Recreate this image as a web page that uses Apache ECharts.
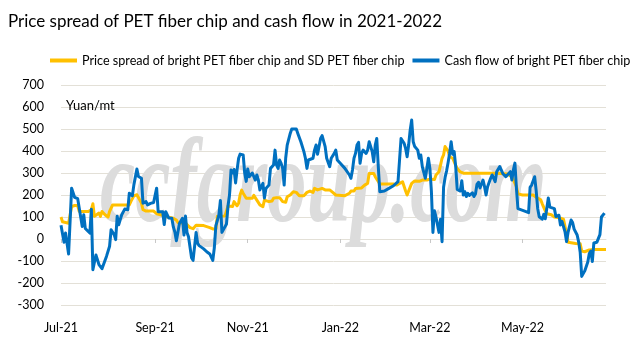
<!DOCTYPE html>
<html>
<head>
<meta charset="utf-8">
<script src="https://cdn.jsdelivr.net/npm/echarts@6/dist/echarts.min.js"></script>
<style>
  html, body { margin: 0; padding: 0; background: #ffffff; }
  #chart { width: 643px; height: 341px; }
</style>
</head>
<body>
<div id="chart"></div>
<script>
// Price spread between bright and SD PET fiber chip (Yuan/mt)
const spreadDates = [
  '2021-07-01','2021-07-02','2021-07-04','2021-07-06','2021-07-08','2021-07-10','2021-07-12','2021-07-13','2021-07-17','2021-07-19',
  '2021-07-21','2021-07-22','2021-07-23','2021-07-24','2021-07-26','2021-07-27','2021-07-28','2021-07-29','2021-07-30','2021-07-31',
  '2021-08-01','2021-08-02','2021-08-03','2021-08-04','2021-08-07','2021-08-11','2021-08-15','2021-08-16','2021-08-18','2021-08-20',
  '2021-08-21','2021-08-23','2021-08-24','2021-08-26','2021-08-29','2021-08-31','2021-09-02','2021-09-03','2021-09-07','2021-09-09',
  '2021-09-13','2021-09-15','2021-09-16','2021-09-18','2021-09-21','2021-09-22','2021-09-24','2021-09-26','2021-09-28','2021-10-03',
  '2021-10-07','2021-10-09','2021-10-11','2021-10-12','2021-10-17','2021-10-19','2021-10-22','2021-10-23','2021-10-25','2021-10-26',
  '2021-10-27','2021-10-28','2021-10-29','2021-10-31','2021-11-02','2021-11-04','2021-11-05','2021-11-06','2021-11-07','2021-11-08',
  '2021-11-09','2021-11-10','2021-11-11','2021-11-12','2021-11-15','2021-11-17','2021-11-18','2021-11-20','2021-11-22','2021-11-24',
  '2021-11-26','2021-11-27','2021-11-29','2021-12-01','2021-12-03','2021-12-05','2021-12-08','2021-12-10','2021-12-12','2021-12-14',
  '2021-12-15','2021-12-17','2021-12-20','2021-12-22','2021-12-23','2021-12-25','2021-12-27','2021-12-29','2021-12-30','2022-01-04',
  '2022-01-07','2022-01-08','2022-01-10','2022-01-11','2022-01-15','2022-01-17','2022-01-19','2022-01-20','2022-01-23','2022-01-24',
  '2022-01-27','2022-01-30','2022-02-05','2022-02-07','2022-02-09','2022-02-11','2022-02-13','2022-02-14','2022-02-15','2022-02-17',
  '2022-02-19','2022-02-22','2022-02-24','2022-02-27','2022-03-01','2022-03-04','2022-03-05','2022-03-07','2022-03-08','2022-03-09',
  '2022-03-10','2022-03-11','2022-03-12','2022-03-13','2022-03-14','2022-03-16','2022-03-17','2022-03-18','2022-03-19','2022-03-21',
  '2022-03-23','2022-04-03','2022-04-14','2022-04-21','2022-04-22','2022-04-24','2022-04-25','2022-04-27','2022-04-28','2022-05-01',
  '2022-05-08','2022-05-10','2022-05-13','2022-05-14','2022-05-16','2022-05-17','2022-05-20','2022-05-22','2022-05-24','2022-05-26',
  '2022-05-28','2022-05-30','2022-05-31','2022-06-05','2022-06-08','2022-06-09','2022-06-11','2022-06-14','2022-06-17','2022-06-25'
];
const spreadValues = [
  100, 78, 75, 72, 148, 152, 152, 125, 125, 125,
  133, 160, 103, 103, 118, 103, 125, 118, 110, 110,
  100, 125, 118, 155, 155, 155, 155, 170, 196, 201,
  196, 163, 133, 127, 127, 127, 115, 106, 106, 100,
  94, 86, 75, 73, 72, 66, 52, 47, 63, 61,
  52, 46, 46, 103, 105, 150, 148, 170, 151, 163,
  201, 222, 208, 185, 185, 185, 198, 192, 177, 172,
  155, 147, 147, 177, 170, 173, 185, 188, 188, 170,
  167, 192, 200, 215, 212, 197, 197, 212, 218, 212,
  230, 223, 230, 223, 230, 223, 212, 200, 197, 197,
  208, 218, 218, 230, 232, 245, 253, 298, 298, 283,
  250, 250, 250, 245, 253, 260, 218, 200, 218, 253,
  264, 262, 268, 268, 272, 270, 291, 306, 336, 367,
  382, 420, 427, 400, 374, 367, 359, 335, 320, 305,
  299, 299, 299, 296, 293, 283, 276, 238, 205, 200,
  200, 190, 178, 160, 128, 115, 110, 100, 98, 95,
  90, 25, -15, -20, -22, -55, -58, -50, -48, -48
];

// Cash flow of bright PET fiber chip (Yuan/mt)
const cashDates = [
  '2021-07-01','2021-07-03','2021-07-04','2021-07-06','2021-07-08','2021-07-10','2021-07-12','2021-07-15','2021-07-16','2021-07-17',
  '2021-07-18','2021-07-20','2021-07-21','2021-07-22','2021-07-24','2021-07-26','2021-07-28','2021-07-29','2021-07-31','2021-08-02',
  '2021-08-03','2021-08-05','2021-08-06','2021-08-07','2021-08-08','2021-08-10','2021-08-11','2021-08-12','2021-08-14','2021-08-15',
  '2021-08-17','2021-08-18','2021-08-20','2021-08-21','2021-08-23','2021-08-24','2021-08-26','2021-08-27','2021-08-29','2021-08-30',
  '2021-08-31','2021-09-02','2021-09-03','2021-09-04','2021-09-06','2021-09-07','2021-09-08','2021-09-09','2021-09-10','2021-09-12',
  '2021-09-13','2021-09-14','2021-09-15','2021-09-16','2021-09-17','2021-09-19','2021-09-20','2021-09-21','2021-09-22','2021-09-23',
  '2021-09-25','2021-09-26','2021-09-27','2021-09-28','2021-09-29','2021-09-30','2021-10-03','2021-10-05','2021-10-07','2021-10-09',
  '2021-10-10','2021-10-11','2021-10-13','2021-10-14','2021-10-15','2021-10-17','2021-10-18','2021-10-19','2021-10-20','2021-10-21',
  '2021-10-22','2021-10-23','2021-10-24','2021-10-25','2021-10-26','2021-10-27','2021-10-29','2021-10-30','2021-10-31','2021-11-01',
  '2021-11-02','2021-11-04','2021-11-06','2021-11-07','2021-11-08','2021-11-09','2021-11-10','2021-11-11','2021-11-12','2021-11-13',
  '2021-11-15','2021-11-16','2021-11-17','2021-11-18','2021-11-19','2021-11-20','2021-11-21','2021-11-22','2021-11-23','2021-11-24',
  '2021-11-25','2021-11-26','2021-11-27','2021-11-29','2021-11-30','2021-12-03','2021-12-04','2021-12-06','2021-12-08','2021-12-09',
  '2021-12-10','2021-12-11','2021-12-12','2021-12-14','2021-12-15','2021-12-16','2021-12-17','2021-12-19','2021-12-20','2021-12-22',
  '2021-12-23','2021-12-25','2021-12-26','2021-12-28','2021-12-29','2021-12-30','2021-12-31','2022-01-02','2022-01-03','2022-01-04',
  '2022-01-05','2022-01-07','2022-01-08','2022-01-09','2022-01-10','2022-01-11','2022-01-12','2022-01-13','2022-01-14','2022-01-15',
  '2022-01-16','2022-01-17','2022-01-18','2022-01-19','2022-01-20','2022-01-21','2022-01-22','2022-01-23','2022-01-24','2022-01-25',
  '2022-01-26','2022-01-27','2022-01-30','2022-02-02','2022-02-05','2022-02-08','2022-02-09','2022-02-10','2022-02-12','2022-02-13',
  '2022-02-14','2022-02-15','2022-02-16','2022-02-17','2022-02-18','2022-02-19','2022-02-21','2022-02-22','2022-02-23','2022-02-24',
  '2022-02-26','2022-02-27','2022-02-28','2022-03-01','2022-03-02','2022-03-03','2022-03-04','2022-03-05','2022-03-07','2022-03-08',
  '2022-03-09','2022-03-10','2022-03-11','2022-03-12','2022-03-13','2022-03-14','2022-03-15','2022-03-16','2022-03-17','2022-03-18',
  '2022-03-19','2022-03-21','2022-03-22','2022-03-23','2022-03-24','2022-03-25','2022-03-26','2022-03-27','2022-03-29','2022-03-30',
  '2022-03-31','2022-04-01','2022-04-02','2022-04-03','2022-04-04','2022-04-05','2022-04-06','2022-04-07','2022-04-08','2022-04-10',
  '2022-04-11','2022-04-12','2022-04-13','2022-04-14','2022-04-16','2022-04-17','2022-04-18','2022-04-20','2022-04-21','2022-04-23',
  '2022-04-24','2022-04-25','2022-04-26','2022-04-27','2022-04-28','2022-05-02','2022-05-05','2022-05-06','2022-05-07','2022-05-09',
  '2022-05-10','2022-05-11','2022-05-12','2022-05-14','2022-05-15','2022-05-16','2022-05-18','2022-05-19','2022-05-20','2022-05-22',
  '2022-05-23','2022-05-25','2022-05-26','2022-05-27','2022-05-29','2022-05-30','2022-05-31','2022-06-02','2022-06-03','2022-06-04',
  '2022-06-06','2022-06-07','2022-06-08','2022-06-09','2022-06-10','2022-06-11','2022-06-13','2022-06-14','2022-06-15','2022-06-16',
  '2022-06-17','2022-06-18','2022-06-19','2022-06-20','2022-06-21','2022-06-22','2022-06-23','2022-06-24'
];
const cashValues = [
  63, -15, 27, -68, 231, 189, 183, 57, 110, 48,
  40, 27, 135, -140, -73, -116, -135, -128, -78, -33,
  42, 20, -3, 103, 65, 110, 103, 136, 133, 208,
  196, 246, 318, 284, 276, 163, 170, 155, 162, 158,
  166, 231, 124, 120, 124, 66, 124, 132, 95, 94,
  55, 32, -8, 30, 70, 94, 18, 104, 30, 10,
  -85, -97, -98, 30, -20, -30, -45, -58, -68, -97,
  -40, 60, 110, 175, 30, 55, 68, 150, 200, 314,
  300, 316, 255, 314, 367, 386, 382, 300, 262, 318,
  283, 300, 268, 291, 268, 223, 223, 253, 186, 230,
  245, 321, 329, 336, 404, 336, 321, 359, 344, 321,
  245, 367, 427, 480, 500, 500, 480, 442, 397, 367,
  321, 359, 367, 367, 404, 427, 385, 457, 470, 420,
  367, 329, 367, 389, 404, 359, 367, 336, 329, 321,
  314, 291, 276, 314, 367, 389, 427, 439, 344, 389,
  404, 412, 389, 404, 442, 450, 397, 351, 427, 457,
  329, 215, 218, 230, 242, 261, 359, 457, 435, 412,
  374, 427, 495, 541, 442, 420, 404, 367, 382, 329,
  276, 321, 367, 321, 215, 30, 128, 100, 30, 90,
  -12, 235, 280, 310, 348, 390, 442, 385, 397, 329,
  225, 218, 265, 200, 215, 193, 208, 198, 210, 193,
  205, 248, 258, 232, 235, 268, 238, 200, 238, 276,
  291, 298, 261, 306, 329, 314, 298, 283, 291, 306,
  268, 314, 345, 230, 138, 128, 120, 235, 245, 283,
  220, 139, 101, 90, 112, 92, 186, 145, 140, 138,
  102, 108, 64, 80, 33, -12, 30, 86, 75, 45,
  18, -14, -60, -170, -178, -145, -105, -66, -55, -102,
  -18, -13, -15, 3, 20, 100, 102, 118
];

// Month marks shown on the date axis, and the axis end date
const monthTicks = ['2021-07-01', '2021-09-01', '2021-11-01', '2022-01-01', '2022-03-01', '2022-05-01'];
const axisEndDate = '2022-06-25';
const monthNames = ['Jan','Feb','Mar','Apr','May','Jun','Jul','Aug','Sep','Oct','Nov','Dec'];

// Value axis range (Yuan/mt)
const yMin = -300, yMax = 700, yStep = 100;

const seriesNames = [
  'Price spread of bright PET fiber chip and SD PET fiber chip',
  'Cash flow of bright PET fiber chip'
];

const FONT = 'Lato, "Open Sans", sans-serif';
const GRID_COLOR = '#e3e0d7';

// ISO date strings -> UTC milliseconds for the date axis
const toTime = (s) => Date.parse(s + 'T00:00:00Z');
const spreadData = spreadDates.map((d, i) => [toTime(d), spreadValues[i]]);
const cashData = cashDates.map((d, i) => [toTime(d), cashValues[i]]);
const tickTimes = monthTicks.map(toTime);

const chart = echarts.init(document.getElementById('chart'), null, { renderer: 'canvas' });

chart.setOption({
  animation: false,
  backgroundColor: '#ffffff',
  title: {
    text: 'Price spread of PET fiber chip and cash flow in 2021-2022',
    left: 3,
    top: 8,
    textStyle: { fontFamily: FONT, fontSize: 17, fontWeight: 'normal', color: '#000000' }
  },
  legend: {
    left: 50,
    top: 54,
    width: 620,
    padding: 0,
    itemGap: 8,
    itemWidth: 27,
    itemHeight: 4,
    icon: 'rect',
    textStyle: { fontFamily: FONT, fontSize: 12.6, color: '#000000' },
    data: seriesNames
  },
  grid: { left: 61, right: 37, top: 85, bottom: 36, containLabel: false, outerBoundsMode: 'none' },
  graphic: [
    {
      type: 'text',
      z: 1,
      x: 100,
      y: 250,
      scaleX: 0.66,
      silent: true,
      style: {
        text: 'ccfgroup.com',
        font: 'italic bold 120px "Liberation Serif", "DejaVu Serif", serif',
        fill: '#dcdcdc',
        verticalAlign: 'bottom'
      }
    },
    {
      type: 'text',
      z: 5,
      left: 66,
      top: 99,
      style: {
        text: 'Yuan/mt',
        font: '13px ' + FONT,
        fill: '#000000'
      }
    }
  ],
  xAxis: {
    type: 'value',
    min: tickTimes[0],
    max: toTime(axisEndDate),
    axisLine: { onZero: true, lineStyle: { color: GRID_COLOR, width: 1 } },
    axisTick: {
      show: true,
      customValues: tickTimes,
      length: 4,
      lineStyle: { color: '#c8c8c8' }
    },
    axisLabel: {
      customValues: tickTimes,
      margin: 16,
      fontFamily: FONT,
      fontSize: 12.5,
      color: '#000000',
      formatter: function (value) {
        const d = new Date(value);
        return monthNames[d.getUTCMonth()] + '-' + String(d.getUTCFullYear()).slice(2);
      }
    },
    splitLine: { show: false }
  },
  yAxis: {
    type: 'value',
    min: yMin,
    max: yMax,
    interval: yStep,
    axisLine: { show: false },
    axisTick: { show: false },
    axisLabel: { margin: 17, fontFamily: FONT, fontSize: 12.5, color: '#000000' },
    splitLine: { show: true, lineStyle: { color: GRID_COLOR, width: 1 } }
  },
  series: [
    {
      name: seriesNames[0],
      type: 'line',
      data: spreadData,
      showSymbol: false,
      symbol: 'none',
      z: 3,
      color: '#FFC000',
      lineStyle: { color: '#FFC000', width: 3, join: 'round' }
    },
    {
      name: seriesNames[1],
      type: 'line',
      data: cashData,
      showSymbol: false,
      symbol: 'none',
      z: 4,
      color: '#0070C0',
      lineStyle: { color: '#0070C0', width: 3, join: 'round' }
    }
  ]
});
</script>
</body>
</html>
